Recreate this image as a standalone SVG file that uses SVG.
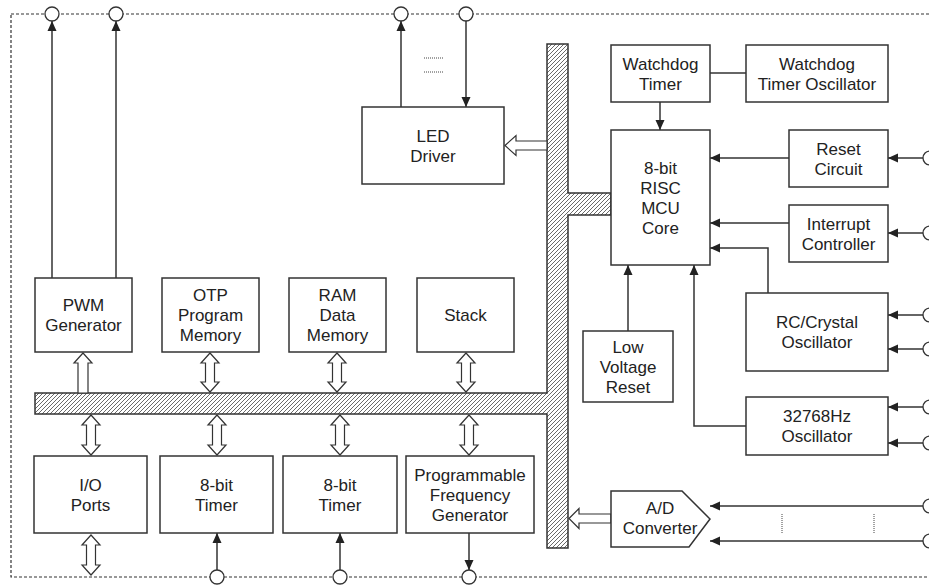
<svg xmlns="http://www.w3.org/2000/svg" width="929" height="586" viewBox="0 0 929 586">
<style>
.box{fill:#fff;stroke:#333;stroke-width:1.5}
.ln{fill:none;stroke:#333;stroke-width:1.5}
.arr{marker-end:url(#ah)}
.hol{fill:#fff;stroke:#333;stroke-width:1.2;stroke-linejoin:miter}
.pin{fill:#fff;stroke:#333;stroke-width:1.3}
.dot{fill:none;stroke:#444;stroke-width:1;stroke-dasharray:1,1}
text{font-family:"Liberation Sans",Arial,sans-serif;font-size:17px;fill:#222;text-anchor:middle}
</style>
<defs>
<marker id="ah" viewBox="0 0 10 10" refX="10" refY="5" markerWidth="10" markerHeight="10" markerUnits="userSpaceOnUse" orient="auto"><path d="M0,0.5 L10,5 L0,9.5 Z" fill="#222"/></marker>
<pattern id="hatch" patternUnits="userSpaceOnUse" width="4" height="4"><path d="M-1,1 L1,-1 M0,4 L4,0 M3,5 L5,3" stroke="#444" stroke-width="0.8"/></pattern>
</defs>
<rect width="929" height="586" fill="#fff"/>
<rect x="11" y="14" width="919" height="563" fill="none" stroke="#333" stroke-width="1.2" stroke-dasharray="3,2"/>

<g id="bus">
<path d="M547,44 L568,44 L568,193 L611,193 L611,215 L568,215 L568,548 L547,548 L547,414 L35,414 L35,393 L547,393 Z" fill="url(#hatch)" stroke="#333" stroke-width="1.5"/>
</g>

<g id="connectors">
<line class="ln arr" x1="52" y1="278" x2="52" y2="21"/>
<line class="ln arr" x1="116" y1="278" x2="116" y2="21"/>
<line class="ln arr" x1="401" y1="107" x2="401" y2="21"/>
<line class="ln arr" x1="466" y1="21" x2="466" y2="107"/>
<line class="dot" x1="424" y1="58" x2="444" y2="58"/>
<line class="dot" x1="424" y1="72" x2="444" y2="72"/>
<line class="ln" x1="710" y1="73" x2="746" y2="73"/>
<line class="ln arr" x1="660" y1="102" x2="660" y2="130"/>
<line class="ln arr" x1="789" y1="158" x2="710" y2="158"/>
<line class="ln arr" x1="923" y1="158" x2="888" y2="158"/>
<line class="ln arr" x1="789" y1="223" x2="710" y2="223"/>
<line class="ln arr" x1="923" y1="233" x2="888" y2="233"/>
<polyline class="ln arr" points="768,293 768,248 710,248"/>
<line class="ln arr" x1="923" y1="315" x2="888" y2="315"/>
<line class="ln arr" x1="923" y1="349" x2="888" y2="349"/>
<polyline class="ln arr" points="746,426 694,426 694,265"/>
<line class="ln arr" x1="923" y1="407" x2="888" y2="407"/>
<line class="ln arr" x1="923" y1="443" x2="888" y2="443"/>
<line class="ln arr" x1="628" y1="331" x2="628" y2="265"/>
<line class="ln arr" x1="923" y1="506" x2="710" y2="506"/>
<line class="ln arr" x1="923" y1="541" x2="710" y2="541"/>
<line class="dot" x1="782" y1="514" x2="782" y2="534"/>
<line class="dot" x1="874" y1="514" x2="874" y2="534"/>
<line class="ln arr" x1="217" y1="570" x2="217" y2="533"/>
<line class="ln arr" x1="340" y1="570" x2="340" y2="533"/>
<line class="ln arr" x1="469" y1="533" x2="469" y2="570"/>
<path class="hol" d="M83,353 L92,363 L88,363 L88,393 L78,393 L78,363 L74,363 Z"/>
<path class="hol" d="M210,353 L219,363 L214.5,363 L214.5,382 L219,382 L210,392 L201,382 L205.5,382 L205.5,363 L201,363 Z"/>
<path class="hol" d="M337,353 L346,363 L341.5,363 L341.5,382 L346,382 L337,392 L328,382 L332.5,382 L332.5,363 L328,363 Z"/>
<path class="hol" d="M466,353 L475,363 L470.5,363 L470.5,382 L475,382 L466,392 L457,382 L461.5,382 L461.5,363 L457,363 Z"/>
<path class="hol" d="M91,415 L100,425 L95.5,425 L95.5,445 L100,445 L91,455 L82,445 L86.5,445 L86.5,425 L82,425 Z"/>
<path class="hol" d="M217,415 L226,425 L221.5,425 L221.5,445 L226,445 L217,455 L208,445 L212.5,445 L212.5,425 L208,425 Z"/>
<path class="hol" d="M340,415 L349,425 L344.5,425 L344.5,445 L349,445 L340,455 L331,445 L335.5,445 L335.5,425 L331,425 Z"/>
<path class="hol" d="M469,415 L478,425 L473.5,425 L473.5,445 L478,445 L469,455 L460,445 L464.5,445 L464.5,425 L460,425 Z"/>
<path class="hol" d="M91,535 L100,545 L95.5,545 L95.5,565 L100,565 L91,575 L82,565 L86.5,565 L86.5,545 L82,545 Z"/>
<path class="hol" d="M505,145.5 L516,135.5 L516,141 L547,141 L547,150 L516,150 L516,155.5 Z"/>
<path class="hol" d="M569,518.5 L579,508.5 L579,514 L611,514 L611,523 L579,523 L579,528.5 Z"/>
</g>

<g id="pins">
<circle class="pin" cx="52" cy="14" r="7"/>
<circle class="pin" cx="116" cy="14" r="7"/>
<circle class="pin" cx="401" cy="14" r="7"/>
<circle class="pin" cx="466" cy="14" r="7"/>
<circle class="pin" cx="217" cy="577" r="7"/>
<circle class="pin" cx="340" cy="577" r="7"/>
<circle class="pin" cx="469" cy="577" r="7"/>
<circle class="pin" cx="930" cy="158" r="7"/>
<circle class="pin" cx="930" cy="233" r="7"/>
<circle class="pin" cx="930" cy="315" r="7"/>
<circle class="pin" cx="930" cy="349" r="7"/>
<circle class="pin" cx="930" cy="407" r="7"/>
<circle class="pin" cx="930" cy="443" r="7"/>
<circle class="pin" cx="930" cy="506" r="7"/>
<circle class="pin" cx="930" cy="541" r="7"/>
</g>

<g id="led-driver"><rect class="box" x="362" y="107" width="142" height="77"/><text x="433" y="141.5">LED</text><text x="433" y="161.5">Driver</text></g>
<g id="watchdog-timer"><rect class="box" x="611" y="45" width="99" height="57"/><text x="660.5" y="69.5">Watchdog</text><text x="660.5" y="89.5">Timer</text></g>
<g id="watchdog-osc"><rect class="box" x="746" y="45" width="142" height="57"/><text x="817" y="69.5">Watchdog</text><text x="817" y="89.5">Timer Oscillator</text></g>
<g id="mcu-core"><rect class="box" x="611" y="130" width="99" height="135"/><text x="660.5" y="173.5">8-bit</text><text x="660.5" y="193.5">RISC</text><text x="660.5" y="213.5">MCU</text><text x="660.5" y="233.5">Core</text></g>
<g id="reset-circuit"><rect class="box" x="789" y="130" width="99" height="57"/><text x="838.5" y="154.5">Reset</text><text x="838.5" y="174.5">Circuit</text></g>
<g id="interrupt-controller"><rect class="box" x="789" y="205" width="99" height="57"/><text x="838.5" y="229.5">Interrupt</text><text x="838.5" y="249.5">Controller</text></g>
<g id="rc-osc"><rect class="box" x="746" y="293" width="142" height="78"/><text x="817" y="328">RC/Crystal</text><text x="817" y="348">Oscillator</text></g>
<g id="osc-32768"><rect class="box" x="746" y="397" width="142" height="58"/><text x="817" y="422">32768Hz</text><text x="817" y="442">Oscillator</text></g>
<g id="lvr"><rect class="box" x="583" y="331" width="90" height="71"/><text x="628" y="352.5">Low</text><text x="628" y="372.5">Voltage</text><text x="628" y="392.5">Reset</text></g>
<g id="pwm"><rect class="box" x="35" y="278" width="97" height="74"/><text x="83.5" y="311">PWM</text><text x="83.5" y="331">Generator</text></g>
<g id="otp"><rect class="box" x="162" y="278" width="97" height="74"/><text x="210.5" y="301">OTP</text><text x="210.5" y="321">Program</text><text x="210.5" y="341">Memory</text></g>
<g id="ram"><rect class="box" x="289" y="278" width="97" height="74"/><text x="337.5" y="301">RAM</text><text x="337.5" y="321">Data</text><text x="337.5" y="341">Memory</text></g>
<g id="stack"><rect class="box" x="417" y="278" width="97" height="74"/><text x="465.5" y="321">Stack</text></g>
<g id="io-ports"><rect class="box" x="34" y="456" width="113" height="77"/><text x="90.5" y="490.5">I/O</text><text x="90.5" y="510.5">Ports</text></g>
<g id="timer1"><rect class="box" x="160" y="456" width="113" height="77"/><text x="216.5" y="490.5">8-bit</text><text x="216.5" y="510.5">Timer</text></g>
<g id="timer2"><rect class="box" x="283" y="456" width="114" height="77"/><text x="340" y="490.5">8-bit</text><text x="340" y="510.5">Timer</text></g>
<g id="pfg"><rect class="box" x="406" y="456" width="128" height="77"/><text x="470" y="480.5">Programmable</text><text x="470" y="500.5">Frequency</text><text x="470" y="520.5">Generator</text></g>
<g id="adc"><path class="box" d="M611,491 L682,491 L710,519 L689,547 L611,547 Z"/><text x="660" y="514">A/D</text><text x="660" y="534">Converter</text></g>
</svg>
